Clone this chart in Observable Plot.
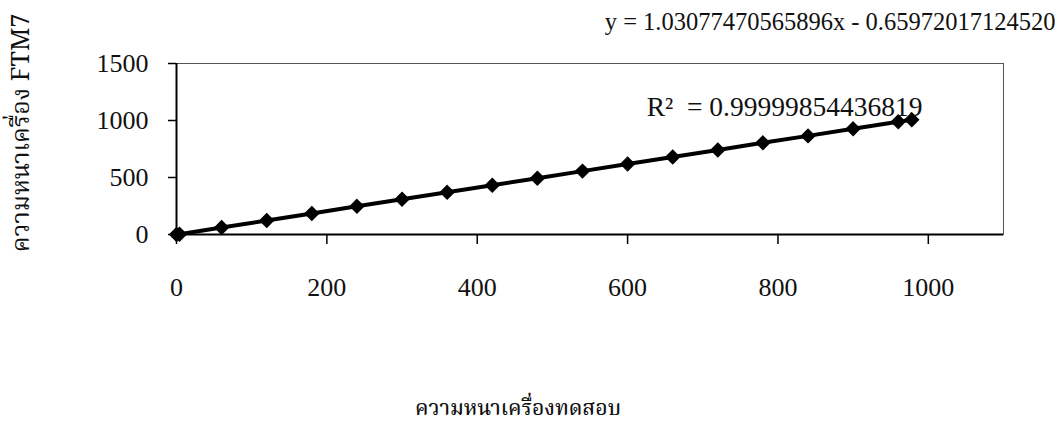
<!DOCTYPE html>
<html>
<head>
<meta charset="utf-8">
<script src="https://cdn.jsdelivr.net/npm/d3@7"></script>
<script src="https://cdn.jsdelivr.net/npm/@observablehq/plot@0.6"></script>
<style>
  html, body { margin: 0; padding: 0; background: #ffffff; }
  #chart { width: 1062px; height: 430px; }
</style>
</head>
<body>
<div id="chart"></div>
<script>
// Reference thickness (x) and FTM7 reading (y)
const xValues = [0, 4, 60, 120, 180, 240, 300, 360, 420, 480, 540, 600, 660, 720, 780, 840, 900, 960, 978];
const yValues = [0, 3, 61, 123, 185, 247, 309, 370, 432, 494, 556, 618, 680, 742, 804, 865, 927, 989, 1007];
const xTicks = [0, 200, 400, 600, 800, 1000];
const yTicks = [0, 500, 1000, 1500];
const equationText = ["y = 1.03077470565896x - 0.65972017124520"];
const r2Text = ["R²  = 0.99999854436819"];
const xTitle = ["ความหนาเครื่องทดสอบ"];
const yTitle = ["ความหนาเครื่อง FTM7"];

const data = xValues.map((x, i) => ({x, y: yValues[i]}));
const serif = "'Liberation Serif', 'Times New Roman', serif";
const thai = "'Noto Serif Thai', 'Noto Sans Thai', Norasi, Loma, Garuda, 'Liberation Serif', serif";
const fmt = d => String(d);

const chart = Plot.plot({
  width: 1062,
  height: 430,
  marginLeft: 176,
  marginRight: 59,
  marginTop: 63,
  marginBottom: 196,
  style: {fontFamily: serif, fontSize: "26px", color: "#111", background: "transparent"},
  x: {domain: [0, 1100], label: null},
  y: {domain: [0, 1500], label: null},
  marks: [
    Plot.frame({stroke: "#555", strokeWidth: 1}),
    Plot.ruleX([0], {stroke: "#000", strokeWidth: 2}),
    Plot.ruleY([0], {stroke: "#000", strokeWidth: 2}),
    Plot.axisX({ticks: xTicks, tickFormat: fmt, tickSize: 10, tickPadding: 33, fontSize: 26, stroke: "#000", strokeWidth: 1.5, fill: "#111"}),
    Plot.axisY({ticks: yTicks, tickFormat: fmt, tickSize: 8, tickPadding: 20, fontSize: 26, stroke: "#000", strokeWidth: 1.5, fill: "#111"}),
    Plot.line(data, {x: "x", y: "y", stroke: "#000", strokeWidth: 4}),
    Plot.dot(data, {x: "x", y: "y", symbol: "diamond2", r: 6, fill: "#000", stroke: "#000"}),
    Plot.text(equationText, {text: d => d, frameAnchor: "top-right", textAnchor: "end", lineAnchor: "middle", dx: 52, dy: -41, fontSize: 24.5, fontFamily: serif, fill: "#111"}),
    Plot.text(r2Text, {text: d => d, frameAnchor: "top-right", textAnchor: "end", lineAnchor: "middle", dx: -81, dy: 44, fontSize: 27.5, fontFamily: serif, fill: "#111"}),
    Plot.text(xTitle, {text: d => d, frameAnchor: "bottom", textAnchor: "middle", lineAnchor: "middle", dx: -72, dy: 174, fontSize: 21, fontWeight: 500, fontFamily: thai, fill: "#111"}),
    Plot.text(yTitle, {text: d => d, frameAnchor: "left", textAnchor: "middle", lineAnchor: "middle", rotate: -90, dx: -156, dy: -16, fontSize: 25, fontFamily: thai, fill: "#111"})
  ]
});
document.getElementById("chart").appendChild(chart);
</script>
</body>
</html>
